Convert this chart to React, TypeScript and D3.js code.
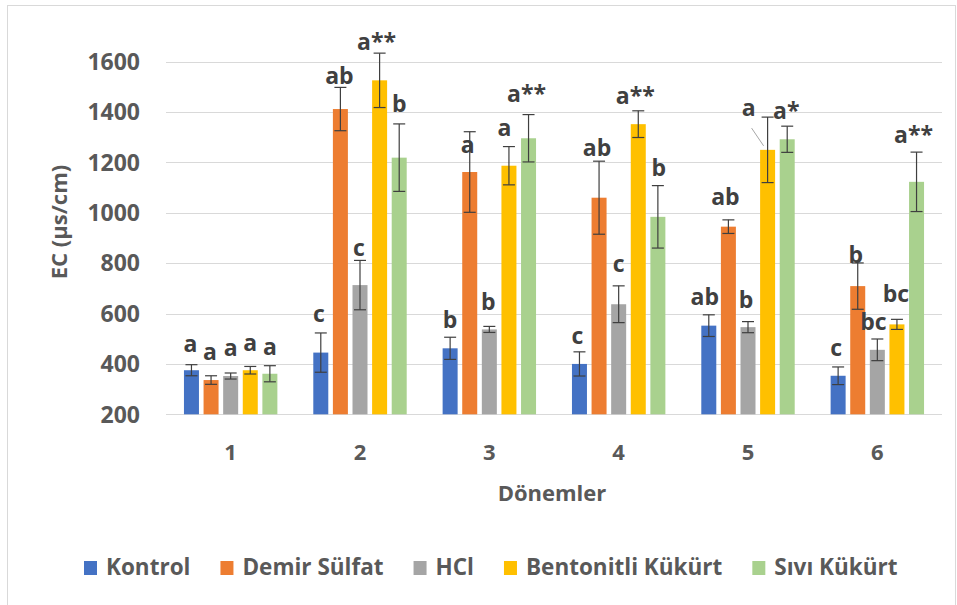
import React, { useEffect, useRef } from "react";
import * as d3 from "d3";

// Sampling periods (x categories)
const periods = ["1", "2", "3", "4", "5", "6"];

// Treatments (series)
const treatments = ["Kontrol", "Demir Sülfat", "HCl", "Bentonitli Kükürt", "Sıvı Kükürt"];
const treatmentColors = ["#4472C4", "#ED7D31", "#A5A5A5", "#FFC000", "#A9D18E"];

// Mean EC (µs/cm) per period, one array per treatment
const kontrol = [375, 445, 462, 400, 552, 353];
const demirSulfat = [336, 1412, 1162, 1060, 945, 709];
const hcl = [352, 713, 537, 637, 546, 456];
const bentonitliKukurt = [375, 1526, 1187, 1352, 1250, 557];
const siviKukurt = [361, 1219, 1296, 984, 1292, 1123];

// Standard errors
const kontrolErr = [22, 78, 44, 48, 43, 35];
const demirSulfatErr = [17, 86, 160, 145, 27, 92];
const hclErr = [12, 98, 12, 73, 22, 43];
const bentonitliKukurtErr = [15, 108, 76, 53, 130, 20];
const siviKukurtErr = [32, 134, 94, 124, 52, 118];

// Significance letters
const kontrolSig = ["a", "c", "b", "c", "ab", "c"];
const demirSulfatSig = ["a", "ab", "a", "ab", "ab", "b"];
const hclSig = ["a", "c", "b", "c", "b", "bc"];
const bentonitliKukurtSig = ["a", "a**", "a", "a**", "a", "bc"];
const siviKukurtSig = ["a", "b", "a**", "b", "a*", "a**"];

const yTicks = [200, 400, 600, 800, 1000, 1200, 1400, 1600];

const seriesValues = [kontrol, demirSulfat, hcl, bentonitliKukurt, siviKukurt];
const seriesErrors = [kontrolErr, demirSulfatErr, hclErr, bentonitliKukurtErr, siviKukurtErr];
const seriesLabels = [kontrolSig, demirSulfatSig, hclSig, bentonitliKukurtSig, siviKukurtSig];

// Hand placement of the letter labels: [dx, dy] from (bar centre, error-bar top)
const labelNudge: [number, number][][] = [
  [[-1, -13], [-2, -11], [0, -9], [-2, -8], [-4, -10], [-2, -11]],
  [[-1, -16], [-1, -3], [-2, 21], [-2, -5], [-3, -15], [-2, 0]],
  [[0, -17], [-1, -4], [-1, -16], [0, -14], [-2, -14], [-4, -9]],
  [[0, -15], [-3, -3], [-4.6, -11], [-3, -7], [-19, -1], [-1, -17]],
  [[0, -11], [0, -12], [-2, -13], [1, -10], [-1, -7], [-3, -9]],
];

const W = 957;
const H = 605;
const FONT = "'Open Sans', 'Segoe UI', sans-serif";
const TEXT = "#595959";

export default function App() {
  const ref = useRef<SVGSVGElement | null>(null);

  useEffect(() => {
    const svg = d3.select(ref.current);
    svg.selectAll("*").remove();

    // chart frame
    svg
      .append("rect")
      .attr("x", 7.5)
      .attr("y", 5.5)
      .attr("width", W - 9)
      .attr("height", H - 3)
      .attr("fill", "#fff")
      .attr("stroke", "#D9D9D9");

    const y = d3.scaleLinear().domain([200, 1600]).range([414.3, 61.7]);
    const x0 = d3.scaleBand<string>().domain(periods).range([166, 942]);
    const x1 = d3
      .scaleBand<string>()
      .domain(treatments)
      .range([0, x0.bandwidth()])
      .paddingInner(0.235)
      .paddingOuter(0.916);

    // gridlines
    svg
      .append("g")
      .selectAll("line")
      .data(yTicks)
      .join("line")
      .attr("x1", 166)
      .attr("x2", 942)
      .attr("y1", (d) => Math.round(y(d)) + 0.5)
      .attr("y2", (d) => Math.round(y(d)) + 0.5)
      .attr("stroke", "#D9D9D9")
      .attr("stroke-width", 1);

    // y tick labels
    svg
      .append("g")
      .selectAll("text")
      .data(yTicks)
      .join("text")
      .attr("x", 140)
      .attr("y", (d) => y(d))
      .attr("dy", "0.36em")
      .attr("text-anchor", "end")
      .attr("font-family", FONT)
      .attr("font-weight", 700)
      .attr("font-size", 23)
      .attr("fill", TEXT)
      .text((d) => d);

    // x tick labels
    svg
      .append("g")
      .selectAll("text")
      .data(periods)
      .join("text")
      .attr("x", (d) => (x0(d) as number) + x0.bandwidth() / 2)
      .attr("y", 460)
      .attr("text-anchor", "middle")
      .attr("font-family", FONT)
      .attr("font-weight", 700)
      .attr("font-size", 22)
      .attr("fill", TEXT)
      .text((d) => d);

    // axis titles
    svg
      .append("text")
      .attr("transform", "translate(67,222) rotate(-90)")
      .attr("text-anchor", "middle")
      .attr("font-family", FONT)
      .attr("font-weight", 700)
      .attr("font-size", 22)
      .attr("fill", TEXT)
      .text("EC (µs/cm)");

    svg
      .append("text")
      .attr("x", 552)
      .attr("y", 501)
      .attr("text-anchor", "middle")
      .attr("font-family", FONT)
      .attr("font-weight", 700)
      .attr("font-size", 22)
      .attr("fill", TEXT)
      .text("Dönemler");

    // bars, error bars and letters
    treatments.forEach((name, si) => {
      const g = svg.append("g");
      const rows = periods.map((p, pi) => ({
        p,
        v: seriesValues[si][pi],
        e: seriesErrors[si][pi],
        lab: seriesLabels[si][pi],
        nudge: labelNudge[si][pi],
      }));
      const cx = (p: string) => (x0(p) as number) + (x1(name) as number) + x1.bandwidth() / 2;

      g.selectAll("rect")
        .data(rows)
        .join("rect")
        .attr("x", (d) => (x0(d.p) as number) + (x1(name) as number))
        .attr("width", x1.bandwidth())
        .attr("y", (d) => y(d.v))
        .attr("height", (d) => y(200) - y(d.v))
        .attr("fill", treatmentColors[si]);

      const eb = g.append("g").attr("stroke", "#3F3F3F").attr("stroke-width", 1.2);
      rows.forEach((d) => {
        const c = cx(d.p);
        const top = y(d.v + d.e);
        const bot = y(d.v - d.e);
        eb.append("line").attr("x1", c).attr("x2", c).attr("y1", top).attr("y2", bot);
        eb.append("line").attr("x1", c - 6).attr("x2", c + 6).attr("y1", top).attr("y2", top);
        eb.append("line").attr("x1", c - 6).attr("x2", c + 6).attr("y1", bot).attr("y2", bot);
      });

      g.selectAll("text")
        .data(rows)
        .join("text")
        .attr("x", (d) => cx(d.p) + d.nudge[0])
        .attr("y", (d) => y(d.v + d.e) + d.nudge[1])
        .attr("text-anchor", "middle")
        .attr("font-family", FONT)
        .attr("font-weight", 700)
        .attr("font-size", 23)
        .attr("fill", "#404040")
        .text((d) => d.lab);

      // leader line for a label moved off its bar
      rows.forEach((d) => {
        if (d.nudge[0] < -10) {
          const c = cx(d.p);
          const topBar = y(d.v);
          g.append("line")
            .attr("x1", c + d.nudge[0] + 3)
            .attr("y1", y(d.v + d.e) + d.nudge[1] + 12)
            .attr("x2", c - 4)
            .attr("y2", topBar - 4)
            .attr("stroke", "#A6A6A6")
            .attr("stroke-width", 1);
        }
      });
    });

    // legend
    const legend = svg.append("g");
    let lx = 84;
    treatments.forEach((name, i) => {
      legend
        .append("rect")
        .attr("x", lx)
        .attr("y", 561)
        .attr("width", 13)
        .attr("height", 14)
        .attr("fill", treatmentColors[i]);
      const t = legend
        .append("text")
        .attr("x", lx + 22)
        .attr("y", 575)
        .attr("font-family", FONT)
        .attr("font-weight", 700)
        .attr("font-size", 22.5)
        .attr("fill", TEXT)
        .text(name);
      const w = (t.node() as SVGTextElement).getComputedTextLength();
      lx += 22 + w + 30;
    });
  }, []);

  return (
    <svg
      ref={ref}
      width={W}
      height={H}
      style={{ position: "absolute", left: 0, top: 0, background: "#fff" }}
    />
  );
}
